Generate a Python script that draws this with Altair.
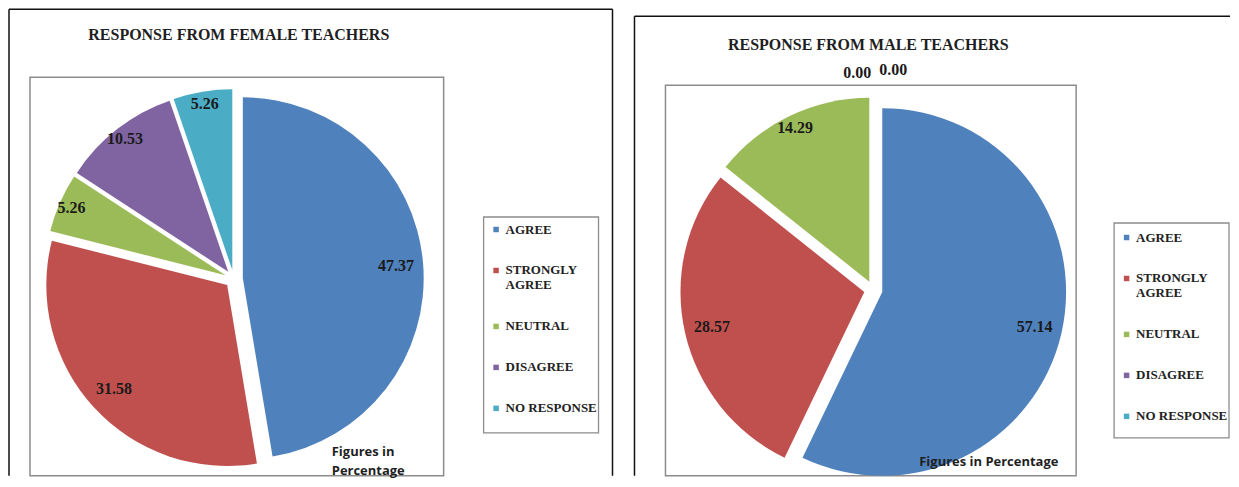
import altair as alt
import pandas as pd

categories = ["AGREE", "STRONGLY AGREE", "NEUTRAL", "DISAGREE", "NO RESPONSE"]
female_values = [47.37, 31.58, 5.26, 10.53, 5.26]
male_values = [57.14, 28.57, 14.29, 0.00, 0.00]
colors = ["#4F81BD", "#C0504D", "#9BBB59", "#8064A2", "#4BACC6"]

female_title = "RESPONSE FROM FEMALE TEACHERS"
male_title = "RESPONSE FROM MALE TEACHERS"
note_female = ["Figures in", "Percentage"]
note_male = ["Figures in Percentage"]

SERIF = "Liberation Serif"
SANS = "Open Sans"
H = 468


def panel(values, title, W, g):
    df = pd.DataFrame({"cat": categories, "value": values, "order": list(range(len(categories)))})
    cx, cy, r, e = g["cx"], g["cy"], g["r"], g["explode"]
    base = (
        alt.Chart(df)
        .transform_window(end="sum(value)", sort=[alt.SortField("order")], frame=[None, 0])
        .transform_calculate(
            start="datum.end - datum.value",
            mid="PI * (datum.end + datum.end - datum.value) / 100",
        )
        .transform_calculate(
            ex=f"{e} * sin(datum.mid)",
            ey=f"{e} * cos(datum.mid)",
            lr="datum.value == 0 ? 1.13 : (datum.value >= 20 ? 0.85 : 0.93)",
        )
        .transform_calculate(
            lx="datum.ex + datum.lr * sin(datum.mid)",
            ly="datum.ey + datum.lr * cos(datum.mid)",
        )
    )
    xs = alt.Scale(domain=[-1, 1], range=[cx - r, cx + r], nice=False, zero=False)
    ys = alt.Scale(domain=[-1, 1], range=[cy + r, cy - r], nice=False, zero=False)

    legend = alt.Legend(
        orient="none", legendX=g["lx"], legendY=g["ly"], title=None,
        direction="vertical", padding=0,
        symbolType="square", symbolSize=30, symbolStrokeWidth=0, symbolOffset=0,
        labelFont=SERIF, labelFontSize=13, labelFontWeight="bold", labelColor="#222222",
        labelLimit=200, rowPadding=27, labelOffset=3,
        labelExpr="datum.label == 'STRONGLY AGREE' ? ['STRONGLY', 'AGREE'] : datum.label",
    )

    pie = base.mark_arc(outerRadius=r, stroke=None).encode(
        x=alt.X("ex:Q", scale=xs, axis=None),
        y=alt.Y("ey:Q", scale=ys, axis=None),
        theta=alt.Theta("start:Q", scale=alt.Scale(domain=[0, 100], range=[0, 6.283185307179586]), stack=None),
        theta2="end:Q",
        color=alt.Color("cat:N", scale=alt.Scale(domain=categories, range=colors), legend=legend),
        order=alt.Order("order:Q"),
    )

    lab_style = dict(font=SERIF, fontSize=16, fontWeight="bold", color="#1a1a1a", baseline="middle")
    labels = base.transform_filter("datum.value > 0").mark_text(align="center", **lab_style).encode(
        x=alt.X("lx:Q", scale=xs, axis=None),
        y=alt.Y("ly:Q", scale=ys, axis=None),
        text=alt.Text("value:Q", format=".2f"),
    )
    zero_left = base.transform_filter("datum.value == 0 && datum.cat == 'DISAGREE'").mark_text(
        align="right", dx=-2, **lab_style).encode(
        x=alt.X("lx:Q", scale=xs, axis=None),
        y=alt.Y("ly:Q", scale=ys, axis=None),
        text=alt.Text("value:Q", format=".2f"),
    )
    zero_right = base.transform_filter("datum.value == 0 && datum.cat == 'NO RESPONSE'").mark_text(
        align="left", dx=6, dy=-3, **lab_style).encode(
        x=alt.X("lx:Q", scale=xs, axis=None),
        y=alt.Y("ly:Q", scale=ys, axis=None),
        text=alt.Text("value:Q", format=".2f"),
    )

    one = pd.DataFrame({"k": [0]})
    ib = g["inner"]
    inner = alt.Chart(one).mark_rect(fill="white", stroke="#8c8c8c", strokeWidth=1.5).encode(
        x=alt.value(ib[0]), x2=alt.value(ib[1]), y=alt.value(ib[2]), y2=alt.value(ib[3]))
    lb = g["legbox"]
    legbox = alt.Chart(one).mark_rect(fill="white", stroke="#8c8c8c", strokeWidth=1.3).encode(
        x=alt.value(lb[0]), x2=alt.value(lb[1]), y=alt.value(lb[2]), y2=alt.value(lb[3]))

    ob = g["outer"]
    borders = [
        alt.Chart(one).mark_rule(color="#111111", strokeWidth=1.5).encode(
            x=alt.value(ob[0]), y=alt.value(ob[1]), y2=alt.value(H)),
        alt.Chart(one).mark_rule(color="#111111", strokeWidth=1.5).encode(
            x=alt.value(ob[0]), x2=alt.value(ob[2]), y=alt.value(ob[1])),
    ]
    if ob[3]:
        borders.append(alt.Chart(one).mark_rule(color="#111111", strokeWidth=1.5).encode(
            x=alt.value(ob[2]), y=alt.value(ob[1]), y2=alt.value(H)))

    ttl = alt.Chart(pd.DataFrame({"t": [title]})).mark_text(
        font=SERIF, fontSize=16, fontWeight="bold", color="#1f1f1f", align="center", baseline="middle"
    ).encode(x=alt.value(g["tx"]), y=alt.value(g["ty"]), text="t:N")

    notes = []
    for i, line in enumerate(g["note"]):
        notes.append(alt.Chart(pd.DataFrame({"t": [line]})).mark_text(
            font=SANS, fontSize=13, fontWeight="bold", color="#1f1f1f", align="left", baseline="middle"
        ).encode(x=alt.value(g["nx"]), y=alt.value(g["ny"] + 19 * i), text="t:N"))

    return alt.layer(inner, legbox, *borders, pie, labels, zero_left, zero_right, ttl, *notes).properties(
        width=W, height=H)


left = panel(female_values, female_title, 612, dict(
    cx=226, cy=271, r=181, explode=0.05, lx=482, ly=215,
    legbox=(476, 591, 209, 425),
    inner=(22, 436, 69, 468), outer=(1, 1, 605, True),
    tx=231, ty=27, note=note_female, nx=324, ny=444))

right = panel(male_values, male_title, 611, dict(
    cx=254, cy=282, r=184, explode=0.05, lx=501, ly=223,
    legbox=(495, 610, 215, 430),
    inner=(46, 457, 77, 468), outer=(15, 8, 611, False),
    tx=249, ty=37, note=note_male, nx=300, ny=454))

chart = alt.hconcat(left, right, spacing=0).resolve_scale(color="independent").configure(
    padding=0, background="white").configure_view(stroke=None)

chart.save("out.html", embed_options={"renderer": "svg", "actions": False})
